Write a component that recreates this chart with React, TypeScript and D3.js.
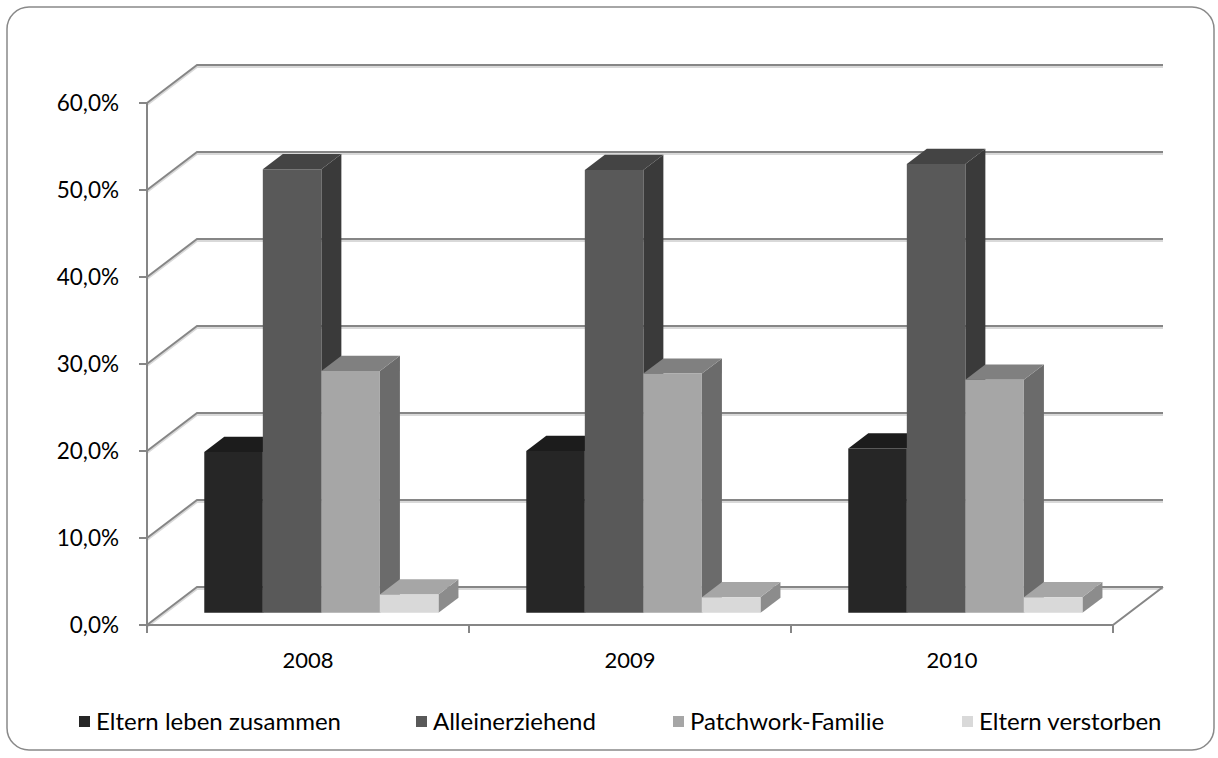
import * as d3 from "d3";

const YEARS = ["2008", "2009", "2010"];
const SERIES = ["Eltern leben zusammen", "Alleinerziehend", "Patchwork-Familie", "Eltern verstorben"];
const ZUSAMMEN = [18.5, 18.6, 18.9];
const ALLEIN = [51.0, 50.9, 51.6];
const PATCHWORK = [27.8, 27.5, 26.8];
const VERSTORBEN = [2.1, 1.8, 1.8];
const Y_TICKS = [0, 10, 20, 30, 40, 50, 60];

const VALUES = [ZUSAMMEN, ALLEIN, PATCHWORK, VERSTORBEN];
const FRONT = ["#262626", "#595959", "#a6a6a6", "#d9d9d9"];
const TOP = ["#1c1c1c", "#444444", "#808080", "#a6a6a6"];
const SIDE = ["#1a1a1a", "#3a3a3a", "#6b6b6b", "#8c8c8c"];

const W = 1218;
const H = 758;
const FONT = "Lato, 'Open Sans', sans-serif";

// oblique depth of the plot box
const DX = 50;
const DY = -38;
const Z0 = 0.32;
const Z1 = 0.72;

export default function App() {
  const x0 = 147;
  const x1 = 1113;
  const y = d3.scaleLinear().domain([0, 60]).range([625, 103]);
  const xCat = d3.scaleBand<string>().domain(YEARS).range([x0, x1]);
  // gap width 150% -> outer padding of 0.75 bar on each side
  const xSer = d3
    .scaleBand<number>()
    .domain(d3.range(SERIES.length))
    .range([0, xCat.bandwidth()])
    .paddingInner(0)
    .paddingOuter(0.75)
    .align(0.47);

  // project (front x, depth fraction z, value v) to screen
  const P = (px: number, z: number, v: number) => [px + z * DX, y(v) + z * DY];
  const poly = (pts: number[][]) => pts.map((p) => p.join(",")).join(" ");

  const grid = "#868686";
  const shadow = "#d9d9d9";

  const bars: JSX.Element[] = [];
  YEARS.forEach((yr, ci) => {
    VALUES.forEach((vals, si) => {
      const v = vals[ci];
      const l = (xCat(yr) ?? 0) + (xSer(si) ?? 0);
      const r = l + xSer.bandwidth();
      const front = [P(l, Z0, 0), P(r, Z0, 0), P(r, Z0, v), P(l, Z0, v)];
      const top = [P(l, Z0, v), P(r, Z0, v), P(r, Z1, v), P(l, Z1, v)];
      const side = [P(r, Z0, 0), P(r, Z1, 0), P(r, Z1, v), P(r, Z0, v)];
      bars.push(
        <g key={`${ci}-${si}`}>
          <polygon points={poly(side)} fill={SIDE[si]} />
          <polygon points={poly(top)} fill={TOP[si]} />
          <polygon points={poly(front)} fill={FRONT[si]} />
        </g>,
      );
    });
  });

  // legend text start positions
  const legendX = [96, 433, 690, 979];

  return (
    <svg width={W} height={H} style={{ position: "fixed", left: 0, top: 0, background: "#fff" }} fontFamily={FONT}>
      <rect x={7} y={7} width={1207} height={743} rx={22} fill="#fff" stroke="#898989" strokeWidth={1.5} />

      {/* back wall gridlines and left wall diagonals */}
      {Y_TICKS.map((t) => (
        <g key={t}>
          <polyline
            points={poly([P(x0, 0, t), P(x0, 1, t), P(x1, 1, t)].map(([a, b]) => [a, b + 2]))}
            fill="none"
            stroke={shadow}
            strokeWidth={2}
          />
          <polyline
            points={poly([P(x0, 0, t), P(x0, 1, t), P(x1, 1, t)])}
            fill="none"
            stroke={grid}
            strokeWidth={2}
          />
          <line x1={x0 - 8} x2={x0} y1={y(t)} y2={y(t)} stroke={grid} strokeWidth={2} />
          <text x={119} y={y(t)} dy="0.35em" textAnchor="end" fontSize={22.5} fill="#000">
            {t.toFixed(1).replace(".", ",")}%
          </text>
        </g>
      ))}

      {/* floor */}
      <polyline points={poly([P(x0, 0, 0), P(x1, 0, 0), P(x1, 1, 0)])} fill="none" stroke={grid} strokeWidth={2} />
      <line x1={x0} x2={x0} y1={y(60)} y2={y(0)} stroke={grid} strokeWidth={2} />
      {[...YEARS.map((yr) => xCat(yr) ?? 0), x1].map((tx) => (
        <line key={tx} x1={tx} x2={tx} y1={y(0)} y2={y(0) + 8} stroke={grid} strokeWidth={2} />
      ))}

      {bars}

      {YEARS.map((yr) => (
        <text
          key={yr}
          x={(xCat(yr) ?? 0) + xCat.bandwidth() / 2}
          y={668}
          textAnchor="middle"
          fontSize={22}
          fill="#000"
        >
          {yr}
        </text>
      ))}

      {SERIES.map((s, i) => (
        <g key={s} transform={`translate(${legendX[i]},730)`}>
          <rect x={-17} y={-14} width={11} height={11} fill={FRONT[i]} />
          <text x={0} y={0} fontSize={24} fill="#000">
            {s}
          </text>
        </g>
      ))}
    </svg>
  );
}
